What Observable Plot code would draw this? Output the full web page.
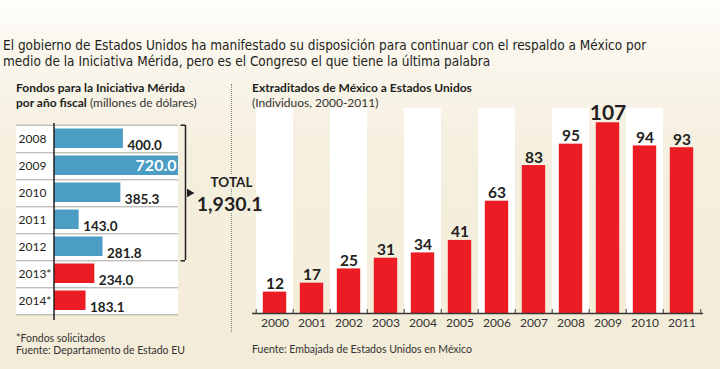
<!DOCTYPE html>
<html><head><meta charset="utf-8">
<script src="https://cdn.jsdelivr.net/npm/d3@7"></script>
<script src="https://cdn.jsdelivr.net/npm/@observablehq/plot@0.6"></script>
<style>
body{margin:0;padding:0;}
#wrap{position:relative;width:720px;height:369px;overflow:hidden;
 background:linear-gradient(to bottom,#fefdfa 0px,#faf6ec 60px,#f5efdf 150px,#f3ecd8 369px);
 font-family:Lato,"Open Sans",sans-serif;color:#231f20;}
.abs{position:absolute;}
#title{left:3px;top:37px;font-family:"Liberation Sans Narrow","DejaVu Sans Condensed",sans-serif;font-size:13.5px;line-height:16px;white-space:nowrap;}
.hdr{font-size:12px;line-height:14.5px;white-space:nowrap;}
.hdr b{font-weight:700;}
.sub{color:#333;}
.foot{font-size:10.5px;line-height:12px;color:#333;white-space:nowrap;}
#dots{left:231px;top:84px;height:248px;border-left:1.5px dotted #8a8478;width:0;}
svg{overflow:visible;}
</style></head>
<body>
<div id="wrap">
 <div id="title" class="abs">El gobierno de Estados Unidos ha manifestado su disposición para continuar con el respaldo a México por<br>medio de la Iniciativa Mérida, pero es el Congreso el que tiene la última palabra</div>
 <div id="dots" class="abs"></div>
 <div class="abs hdr" style="left:16px;top:81px;"><b>Fondos para la Iniciativa Mérida</b><br><b>por año fiscal</b> <span class="sub">(millones de dólares)</span></div>
 <div class="abs hdr" style="left:252px;top:81px;"><b>Extraditados de México a Estados Unidos</b><br><span class="sub">(Individuos, 2000-2011)</span></div>
 <div id="right" class="abs" style="left:245px;top:103px;z-index:1;"></div>
 <div id="left" class="abs" style="left:0;top:118px;z-index:2;"></div>
 <div class="abs foot" style="left:16px;top:332px;">*Fondos solicitados<br>Fuente: Departamento de Estado EU</div>
 <div class="abs foot" style="left:252px;top:343px;">Fuente: Embajada de Estados Unidos en México</div>
</div>
<script>
// ---- Data: Fondos Iniciativa Mérida (millones de dólares)
const fundYears = ["2008","2009","2010","2011","2012","2013*","2014*"];
const fundValues = [400.0, 720.0, 385.3, 143.0, 281.8, 234.0, 183.1];
const fundRequested = [false, false, false, false, false, true, true];

// ---- Data: Extraditados de México a Estados Unidos
const extYears = ["2000","2001","2002","2003","2004","2005","2006","2007","2008","2009","2010","2011"];
const extValues = [12, 17, 25, 31, 34, 41, 63, 83, 95, 107, 94, 93];

const BLUE = "#4b9dc3", RED = "#ec1c24", INK = "#231f20", BG = "#f5efdf";

const funds = fundYears.map((y, i) => ({year: y, value: fundValues[i], requested: fundRequested[i]}));
const approved = funds.filter(d => !d.requested);
const total = d3.sum(approved, d => d.value);
const maxFund = d3.max(fundValues);
const midYear = approved[Math.floor(approved.length / 2)].year;

const LH = 203, LmT = 5, LmB = 5;
const bwL = (LH - LmT - LmB) / fundYears.length;

const left = Plot.plot({
  width: 270, height: LH,
  marginLeft: 16, marginRight: 92, marginTop: LmT, marginBottom: LmB,
  style: {background: "transparent", fontFamily: "Lato, sans-serif", color: INK, overflow: "visible"},
  x: {domain: [0, maxFund], range: [54, 178], axis: null},
  y: {domain: fundYears, padding: 0, axis: null},
  marks: [
    Plot.cell(fundYears, {y: d => d, fill: "white"}),
    Plot.ruleY(fundYears, {y: d => d, dy: bwL / 2, stroke: "#a9a6a0", strokeWidth: 1}),
    Plot.ruleY(fundYears.slice(0, 1), {y: d => d, dy: -bwL / 2, stroke: "#a9a6a0", strokeWidth: 1}),
    Plot.text(fundYears, {y: d => d, text: d => d, frameAnchor: "left", dx: 2, textAnchor: "start", fontSize: 12, fill: INK}),
    Plot.barX(funds, {y: "year", x: "value", fill: d => d.requested ? RED : BLUE, insetTop: 3.5, insetBottom: 4}),
    Plot.ruleX([0], {stroke: INK, strokeWidth: 1.5, insetBottom: -4, dx: -0.5}),
    Plot.text(funds.filter(d => d.value !== maxFund), {y: "year", x: "value", text: d => d.value.toFixed(1), dx: 4, dy: 6.5, textAnchor: "start", fontWeight: "bold", fontSize: 13.5, fill: INK}),
    Plot.text(funds.filter(d => d.value === maxFund), {y: "year", x: "value", text: d => d.value.toFixed(1), dx: -2, dy: 0, textAnchor: "end", fontWeight: "bold", fontSize: 16, fill: "white"}),
    // bracket for approved total
    Plot.tickX(approved, {y: "year", x: () => maxFund, dx: 7, stroke: INK, strokeWidth: 1.5}),
    Plot.ruleY([approved[0].year], {y: d => d, x1: maxFund, x2: maxFund, dx: 5.5, dy: -bwL / 2, insetLeft: -3, insetRight: -1.5, stroke: INK, strokeWidth: 1.5}),
    Plot.ruleY([approved[approved.length - 1].year], {y: d => d, x1: maxFund, x2: maxFund, dx: 5.5, dy: bwL / 2, insetLeft: -3, insetRight: -1.5, stroke: INK, strokeWidth: 1.5}),
    Plot.dot([midYear], {y: d => d, x: () => maxFund, dx: 11, symbol: "triangle", rotate: 90, r: 3.2, fill: INK, stroke: "none"}),
    Plot.text([midYear], {y: d => d, x: () => maxFund, dx: 74, dy: -10, text: ["TOTAL"], textAnchor: "end", fontWeight: "bold", fontSize: 13.5, fill: INK, stroke: BG, strokeWidth: 4, paintOrder: "stroke"}),
    Plot.text([midYear], {y: d => d, x: () => maxFund, dx: 84, dy: 12, text: [d3.format(",.1f")(total)], textAnchor: "end", fontWeight: "bold", fontSize: 19.5, fill: INK, stroke: BG, strokeWidth: 3, paintOrder: "stroke"})
  ]
});
document.getElementById("left").appendChild(left);

// ---- right chart
const ext = extYears.map((y, i) => ({year: y, value: extValues[i]}));
const maxExt = d3.max(extValues);
const RW = 475, RH = 232, RmL = 7, RmR = 17, RmT = 5, RmB = 22;
const bwR = (RW - RmL - RmR) / extYears.length;

const right = Plot.plot({
  width: RW, height: RH,
  marginLeft: RmL, marginRight: RmR, marginTop: RmT, marginBottom: RmB,
  style: {background: "transparent", fontFamily: "Lato, sans-serif", color: INK, overflow: "visible"},
  x: {domain: extYears, padding: 0, tickSize: 0, tickPadding: 5, label: null},
  y: {domain: [0, 115], axis: null},
  marks: [
    Plot.cell(extYears.filter((d, i) => i % 2 === 0), {x: d => d, fill: "white"}),
    Plot.barY(ext, {x: "year", y: "value", fill: RED, insetLeft: 6.8, insetRight: 6.8}),
    Plot.ruleY([0], {stroke: "#3a3836", strokeWidth: 1.3}),
    Plot.ruleX(extYears, {x: d => d, dx: -bwR / 2, y1: 0, y2: 0, insetTop: -4, stroke: "#3a3836", strokeWidth: 1}),
    Plot.ruleX(extYears.slice(-1), {x: d => d, dx: bwR / 2, y1: 0, y2: 0, insetTop: -4, stroke: "#3a3836", strokeWidth: 1}),
    Plot.text(ext, {x: "year", y: "value", text: d => String(d.value), lineAnchor: "bottom", dy: -3, fontWeight: "bold", fontSize: d => d.value === maxExt ? 21 : 15.5, fill: INK}),
    Plot.axisX({tickSize: 0, tickPadding: 5, fontSize: 12, fill: "#333", label: null})
  ]
});
document.getElementById("right").appendChild(right);
</script>
</body></html>
